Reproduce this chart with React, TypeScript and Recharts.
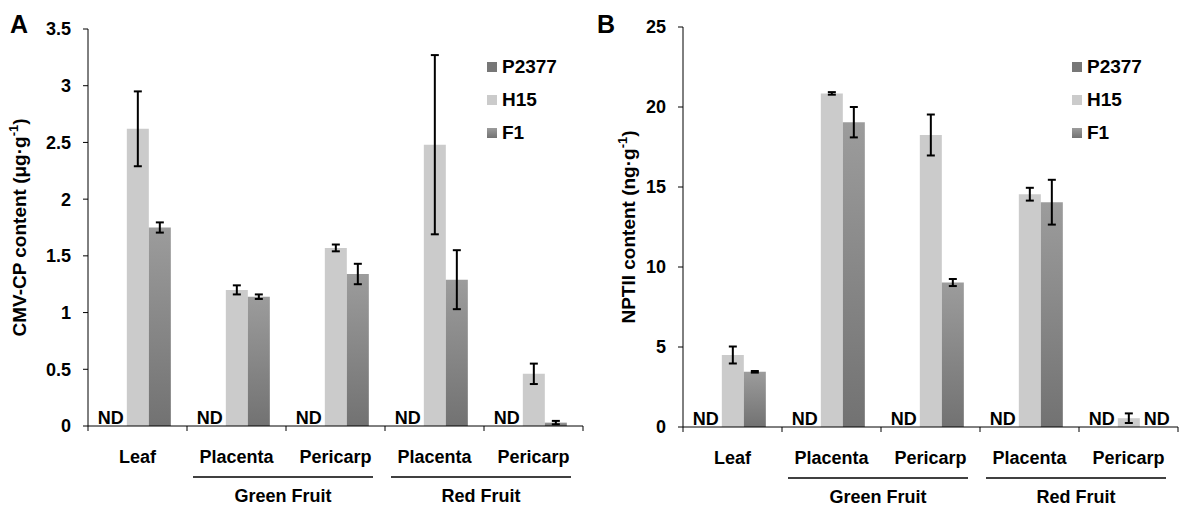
import React from "react";
import { Bar, BarChart, ErrorBar, LabelList, Legend, XAxis, YAxis } from "recharts";

const categories = ["Leaf", "Placenta", "Pericarp", "Placenta", "Pericarp"];
const categoryKeys = ["leaf", "green-placenta", "green-pericarp", "red-placenta", "red-pericarp"];
const fruitGroups = [
  { label: "Green Fruit", first: 1, last: 2 },
  { label: "Red Fruit", first: 3, last: 4 },
];
const seriesOrder = ["P2377", "H15", "F1"];

// A: CMV-CP content (µg·g-1)
const cmvP2377 = [0, 0, 0, 0, 0];
const cmvH15 = [2.62, 1.2, 1.57, 2.48, 0.46];
const cmvH15Err = [0.33, 0.04, 0.03, 0.79, 0.09];
const cmvF1 = [1.75, 1.14, 1.34, 1.29, 0.03];
const cmvF1Err = [0.045, 0.02, 0.09, 0.26, 0.015];
const cmvNdP2377 = [true, true, true, true, true];
const cmvNdF1 = [false, false, false, false, false];
const cmvTicks = [0, 0.5, 1, 1.5, 2, 2.5, 3, 3.5];

// B: NPTII content (ng·g-1)
const nptP2377 = [0, 0, 0, 0, 0];
const nptH15 = [4.5, 20.85, 18.25, 14.55, 0.55];
const nptH15Err = [0.53, 0.08, 1.28, 0.4, 0.3];
const nptF1 = [3.45, 19.05, 9.03, 14.05, 0];
const nptF1Err = [0.05, 0.95, 0.22, 1.4, 0];
const nptNdP2377 = [true, true, true, true, true];
const nptNdF1 = [false, false, false, false, true];
const nptTicks = [0, 5, 10, 15, 20, 25];

const font = "'Liberation Sans', Arial, sans-serif";
const bold = { fontFamily: font, fontWeight: 700, fill: "#000" };

function buildRows(
  p2377: number[],
  h15: number[],
  h15Err: number[],
  f1: number[],
  f1Err: number[],
  ndP2377: boolean[],
  ndF1: boolean[]
) {
  return categoryKeys.map((key, i) => ({
    key,
    P2377: p2377[i],
    H15: h15[i],
    H15err: h15Err[i],
    F1: f1[i],
    F1err: f1Err[i],
    nd: (ndP2377[i] ? "L" : "") + (ndF1[i] ? "R" : ""),
  }));
}

const cmvRows = buildRows(cmvP2377, cmvH15, cmvH15Err, cmvF1, cmvF1Err, cmvNdP2377, cmvNdF1);
const nptRows = buildRows(nptP2377, nptH15, nptH15Err, nptF1, nptF1Err, nptNdP2377, nptNdF1);

function CategoryTick(props: any) {
  const { x, y, index, band } = props;
  const left = x - band / 2;
  const group = fruitGroups.find((g) => g.last === index);
  let groupEl = null;
  if (group) {
    const x1 = left - band * (group.last - group.first) + 6;
    const x2 = left + band - 12;
    groupEl = (
      <g>
        <line x1={x1} y1={y + 51} x2={x2} y2={y + 51} stroke="#000" strokeWidth={1.3} />
        <text x={(x1 + x2) / 2} y={y + 76} textAnchor="middle" fontSize={18} style={bold}>
          {group.label}
        </text>
      </g>
    );
  }
  return (
    <g>
      <line x1={left} y1={y} x2={left} y2={y + 5} stroke="#000" />
      {index === categories.length - 1 && <line x1={left + band} y1={y} x2={left + band} y2={y + 5} stroke="#000" />}
      <text x={x} y={y + 37} textAnchor="middle" fontSize={18} style={bold}>
        {categories[index]}
      </text>
      {groupEl}
    </g>
  );
}

// "ND" marks hang off the H15 bar: its neighbours on both sides are the undetected ones
function NdLabels(props: any) {
  const box = props.viewBox ?? props;
  const flag = String(props.value ?? "");
  const w = Number(box.width);
  const cx = Number(box.x) + w / 2;
  const base = Number(box.y) + Number(box.height) - 2;
  return (
    <g>
      {flag.includes("L") && (
        <text x={cx - w - 5} y={base} textAnchor="middle" fontSize={18} style={bold}>
          ND
        </text>
      )}
      {flag.includes("R") && (
        <text x={cx + w + 6} y={base} textAnchor="middle" fontSize={18} style={bold}>
          ND
        </text>
      )}
    </g>
  );
}

function AxisTitle({ viewBox, x, text, unit }: any) {
  const cy = viewBox.y + viewBox.height / 2;
  return (
    <text x={x} y={cy} transform={`rotate(-90 ${x} ${cy})`} textAnchor="middle" fontSize={19} style={bold}>
      {text} ({unit}·g
      <tspan dy={-8} fontSize={13}>
        -1
      </tspan>
      <tspan dy={8}>)</tspan>
    </text>
  );
}

function LegendList({ payload }: any) {
  const items = [...(payload ?? [])].sort(
    (a: any, b: any) => seriesOrder.indexOf(a.value) - seriesOrder.indexOf(b.value)
  );
  return (
    <div>
      {items.map((item: any) => (
        <div key={item.value} style={{ display: "flex", alignItems: "center", height: 33 }}>
          <svg width={10} height={10} style={{ marginRight: 5 }}>
            <rect width={10} height={10} fill={item.color} />
          </svg>
          <span style={{ fontFamily: font, fontWeight: 700, fontSize: 19, color: "#000" }}>{item.value}</span>
        </div>
      ))}
    </div>
  );
}

type PanelProps = {
  id: string;
  rows: any[];
  width: number;
  top: number;
  yWidth: number;
  left: number;
  right: number;
  xHeight: number;
  max: number;
  ticks: number[];
  title: string;
  unit: string;
  titleX: number;
  legendLeft: number;
};

function Panel(p: PanelProps) {
  const band = (p.width - p.left - p.yWidth - p.right) / categories.length;
  const gradId = `f1-${p.id}`;
  return (
    <BarChart
      width={p.width}
      height={506}
      data={p.rows}
      margin={{ top: p.top, right: p.right, bottom: 0, left: p.left }}
      barCategoryGap="17%"
      barGap={0}
    >
      <defs>
        <linearGradient id={gradId} x1="0" y1="0" x2="0" y2="1">
          <stop offset="0%" stopColor="#9c9c9c" />
          <stop offset="100%" stopColor="#727272" />
        </linearGradient>
      </defs>
      <XAxis
        dataKey="key"
        height={p.xHeight}
        interval={0}
        tickLine={false}
        tickSize={0}
        tickMargin={0}
        axisLine={{ stroke: "#000" }}
        tick={(t: any) => <CategoryTick {...t} band={band} />}
      />
      <YAxis
        width={p.yWidth}
        domain={[0, p.max]}
        ticks={p.ticks}
        interval={0}
        tickSize={5}
        tickMargin={12}
        axisLine={{ stroke: "#000" }}
        tickLine={{ stroke: "#000" }}
        tick={{ fontSize: 18, ...bold }}
        label={{ content: (l: any) => <AxisTitle viewBox={l.viewBox} x={p.titleX} text={p.title} unit={p.unit} /> }}
      />
      <Legend
        layout="vertical"
        align="center"
        verticalAlign="middle"
        content={<LegendList />}
        wrapperStyle={{ left: p.legendLeft, top: 50, width: "auto", height: "auto" }}
      />
      <Bar dataKey="P2377" name="P2377" fill="#777777" isAnimationActive={false} />
      <Bar dataKey="H15" name="H15" fill="#cbcbcb" isAnimationActive={false}>
        <ErrorBar dataKey="H15err" width={4} stroke="#000" strokeWidth={2} isAnimationActive={false} />
        <LabelList dataKey="nd" content={<NdLabels />} />
      </Bar>
      <Bar dataKey="F1" name="F1" fill={`url(#${gradId})`} isAnimationActive={false}>
        <ErrorBar dataKey="F1err" width={4} stroke="#000" strokeWidth={2} isAnimationActive={false} />
      </Bar>
    </BarChart>
  );
}

export default function App() {
  const letter = { position: "absolute" as const, top: 12, fontFamily: font, fontWeight: 700, fontSize: 25, lineHeight: 1 };
  return (
    <div style={{ position: "absolute", left: 0, top: 0, width: 1179, height: 506, background: "#fff" }}>
      <div style={{ position: "absolute", left: 0, top: 0 }}>
        <Panel
          id="a"
          rows={cmvRows}
          width={590}
          top={29}
          left={10}
          yWidth={78}
          right={7}
          xHeight={80}
          max={3.5}
          ticks={cmvTicks}
          title="CMV-CP content"
          unit="μg"
          titleX={26}
          legendLeft={487}
        />
      </div>
      <div style={{ position: "absolute", left: 590, top: 0 }}>
        <Panel
          id="b"
          rows={nptRows}
          width={589}
          top={27}
          left={13}
          yWidth={80}
          right={1}
          xHeight={79}
          max={25}
          ticks={nptTicks}
          title="NPTII content"
          unit="ng"
          titleX={45}
          legendLeft={482}
        />
      </div>
      <div style={{ ...letter, left: 10 }}>A</div>
      <div style={{ ...letter, left: 597 }}>B</div>
    </div>
  );
}
